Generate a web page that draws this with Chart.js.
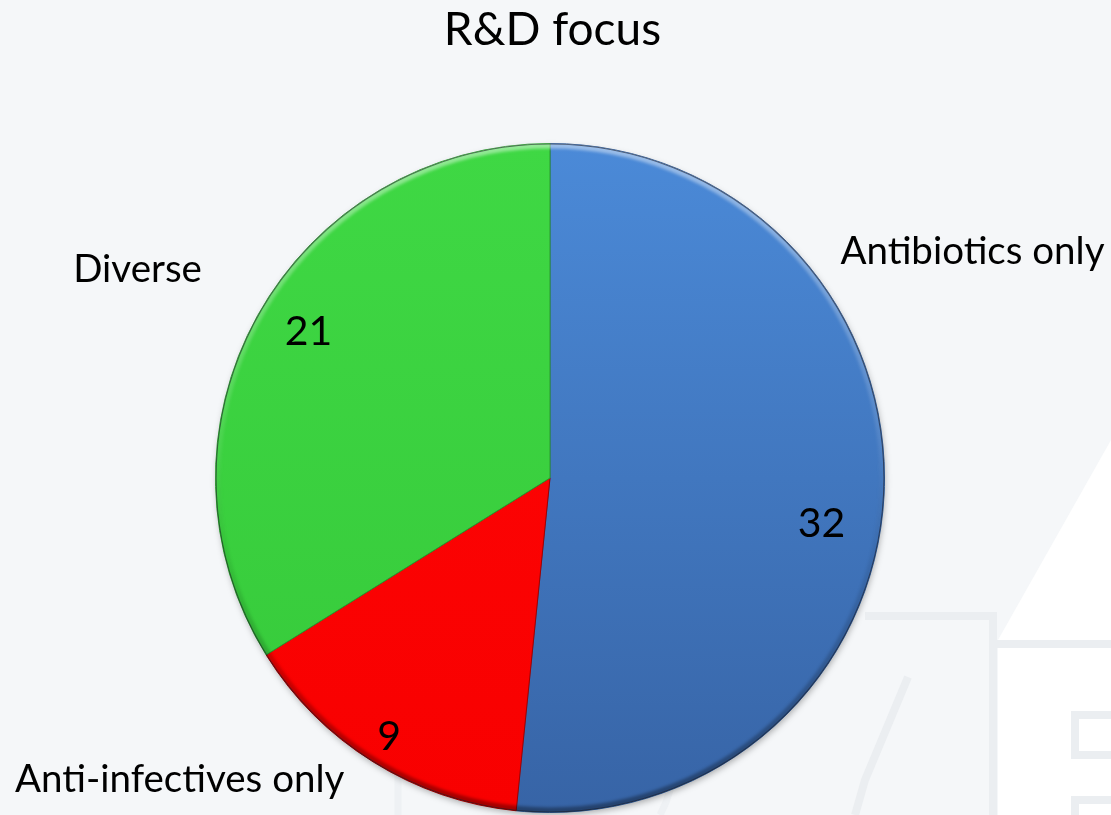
<!DOCTYPE html>
<html>
<head>
<meta charset="utf-8">
<script src="https://cdn.jsdelivr.net/npm/chart.js@4/dist/chart.umd.min.js"></script>
<style>
  html, body { margin: 0; padding: 0; background: #f5f7f9; }
  #wrap { width: 1111px; height: 815px; position: relative; }
</style>
</head>
<body>
<div id="wrap"><canvas id="c" width="1111" height="815"></canvas></div>
<script>
// ---- data ----
const chartTitle = 'R&D focus';
const categories = ['Antibiotics only', 'Anti-infectives only', 'Diverse'];
const values = [32, 9, 21];

// ---- styles ----
const sliceTop = ['#4b8ad8', '#ff0606', '#3fd844'];
const sliceBottom = ['#3764a6', '#f80000', '#36c93a'];
const sliceBorder = ['#2c568f', '#a30000', '#2a9a2e'];
const FONT = 'Lato, "Open Sans", "DejaVu Sans", sans-serif';
// label anchor positions, in units of the pie radius relative to its centre (text baseline)
const valueLabelPos = [[0.812, 0.176], [-0.481, 0.812], [-0.722, -0.397]];
const nameLabelPos = [[1.263, -0.639], [-1.107, 0.940], [-1.233, -0.585]];

const backgroundPlugin = {
  id: 'bg',
  beforeDraw(chart) {
    const ctx = chart.ctx;
    ctx.save();
    ctx.fillStyle = '#f5f7f9';
    ctx.fillRect(0, 0, chart.width, chart.height);
    // faint watermark
    ctx.fillStyle = '#ffffff';
    ctx.beginPath();
    ctx.moveTo(1111, 440); ctx.lineTo(998, 640); ctx.lineTo(998, 815); ctx.lineTo(1111, 815);
    ctx.closePath(); ctx.fill();
    ctx.strokeStyle = '#ebeef1';
    ctx.lineWidth = 8;
    ctx.beginPath();
    ctx.moveTo(865, 616); ctx.lineTo(993, 616); ctx.lineTo(993, 815);
    ctx.moveTo(993, 644); ctx.lineTo(1111, 644);
    ctx.moveTo(1111, 715); ctx.lineTo(1075, 715); ctx.lineTo(1075, 755); ctx.lineTo(1111, 755);
    ctx.moveTo(1111, 800); ctx.lineTo(1075, 800); ctx.lineTo(1075, 815);
    ctx.moveTo(908, 677); ctx.lineTo(865, 780); ctx.lineTo(855, 815);
    ctx.stroke();
    ctx.lineWidth = 7;
    ctx.strokeStyle = '#eef1f4';
    ctx.beginPath();
    ctx.moveTo(398, 700); ctx.lineTo(398, 815);
    ctx.moveTo(650, 700); ctx.quadraticCurveTo(690, 760, 660, 815);
    ctx.stroke();
    ctx.restore();
  },
  beforeDatasetsDraw(chart) {
    const arc = chart.getDatasetMeta(0).data[0];
    if (!arc) return;
    const ctx = chart.ctx;
    ctx.save();
    ctx.shadowColor = 'rgba(0,0,0,0.35)';
    ctx.shadowBlur = 7;
    ctx.shadowOffsetX = 1;
    ctx.shadowOffsetY = 3;
    ctx.fillStyle = '#555';
    ctx.beginPath();
    ctx.arc(arc.x, arc.y, arc.outerRadius - 1, 0, Math.PI * 2);
    ctx.fill();
    ctx.restore();
  },
  afterDatasetsDraw(chart) {
    const arc = chart.getDatasetMeta(0).data[0];
    if (!arc) return;
    const ctx = chart.ctx;
    const r = arc.outerRadius;
    ctx.save();
    ctx.beginPath();
    ctx.arc(arc.x, arc.y, r, 0, Math.PI * 2);
    ctx.clip();
    const g = ctx.createLinearGradient(0, arc.y - r, 0, arc.y + r);
    g.addColorStop(0, 'rgba(255,255,255,0.45)');
    g.addColorStop(0.45, 'rgba(255,255,255,0.08)');
    g.addColorStop(0.6, 'rgba(0,0,0,0.05)');
    g.addColorStop(1, 'rgba(0,0,0,0.35)');
    ctx.strokeStyle = g;
    ctx.lineWidth = 6;
    ctx.filter = 'blur(1.5px)';
    ctx.beginPath();
    ctx.arc(arc.x, arc.y, r - 2, 0, Math.PI * 2);
    ctx.stroke();
    ctx.filter = 'none';
    ctx.strokeStyle = 'rgba(30,30,40,0.55)';
    ctx.lineWidth = 1.2;
    ctx.beginPath();
    ctx.arc(arc.x, arc.y, r - 0.5, 0, Math.PI * 2);
    ctx.stroke();
    ctx.restore();
  }
};

const labelPlugin = {
  id: 'labels',
  afterDraw(chart) {
    const ctx = chart.ctx;
    const meta = chart.getDatasetMeta(0);
    ctx.save();
    ctx.fillStyle = '#000';
    ctx.textAlign = 'center';
    ctx.textBaseline = 'alphabetic';
    // title
    ctx.font = '46px ' + FONT;
    ctx.fillText(chartTitle, chart.width / 2 - 3, 45);
    meta.data.forEach((arc, i) => {
      const r = arc.outerRadius;
      ctx.font = '41px ' + FONT;
      ctx.fillText(String(values[i]), arc.x + valueLabelPos[i][0] * r, arc.y + valueLabelPos[i][1] * r);
      ctx.font = '38.5px ' + FONT;
      ctx.fillText(categories[i], arc.x + nameLabelPos[i][0] * r, arc.y + nameLabelPos[i][1] * r);
    });
    ctx.restore();
  }
};

function sliceGradient(context) {
  const chart = context.chart;
  const area = chart.chartArea;
  const i = context.dataIndex;
  if (!area) return sliceTop[i];
  const g = chart.ctx.createLinearGradient(0, area.top, 0, area.bottom);
  g.addColorStop(0, sliceTop[i]);
  g.addColorStop(1, sliceBottom[i]);
  return g;
}

new Chart(document.getElementById('c'), {
  type: 'pie',
  data: {
    labels: categories,
    datasets: [{
      data: values,
      backgroundColor: sliceGradient,
      borderColor: sliceBorder,
      borderWidth: 1
    }]
  },
  plugins: [backgroundPlugin, labelPlugin],
  options: {
    responsive: false,
    animation: false,
    devicePixelRatio: 1,
    layout: { padding: { left: 215, right: 226, top: 143, bottom: 2 } },
    plugins: {
      legend: { display: false },
      tooltip: { enabled: false },
      title: { display: false }
    }
  }
});
</script>
</body>
</html>
